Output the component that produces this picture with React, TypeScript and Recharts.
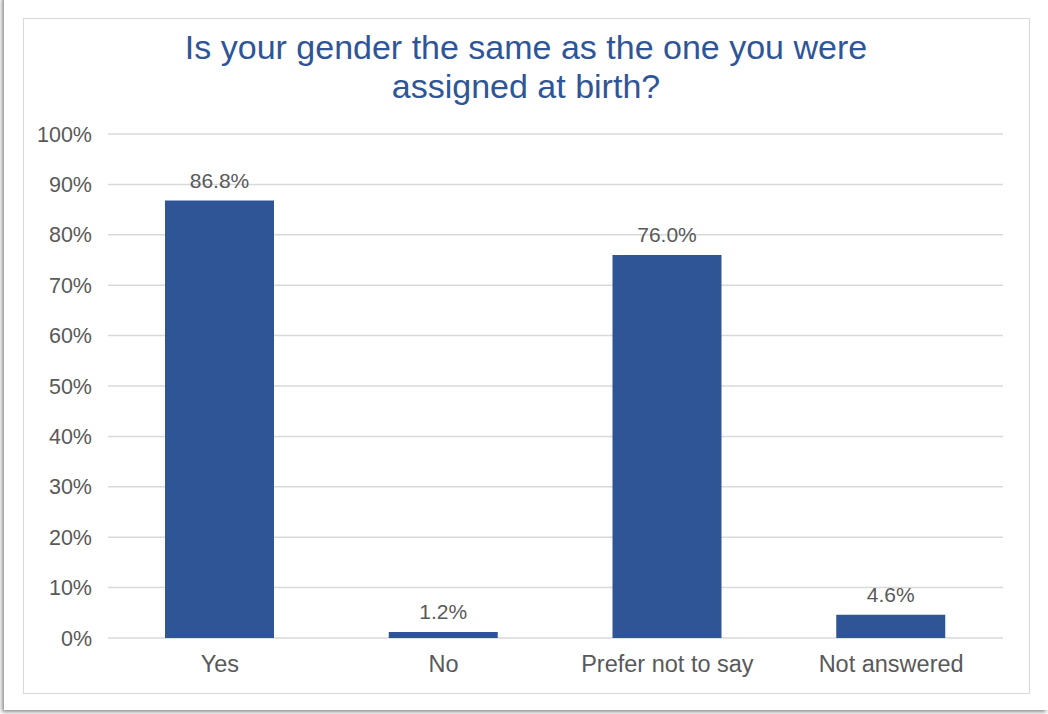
import { BarChart, Bar, XAxis, YAxis, CartesianGrid, LabelList } from 'recharts';

const categories = ['Yes', 'No', 'Prefer not to say', 'Not answered'];
const shares = [86.8, 1.2, 76.0, 4.6];
const yTicks = [0, 10, 20, 30, 40, 50, 60, 70, 80, 90, 100];

const data = categories.map((name, i) => ({ name, value: shares[i] }));

const FONT = '"Liberation Sans", Arial, Helvetica, sans-serif';
const GREY = '#595959';

export default function App() {
  return (
    <div style={{ position: 'absolute', left: 0, top: 0, width: 1048, height: 714, background: '#fff', fontFamily: FONT }}>
      <div
        style={{
          position: 'absolute', left: 4, top: -4, width: 1044, height: 714,
          background: '#fff', boxShadow: '-2px 2px 4px rgba(0,0,0,0.45)',
        }}
      />
      <div
        style={{
          position: 'absolute', left: 23, top: 18, width: 1005, height: 674,
          border: '1px solid #d9d9d9', background: '#fff',
        }}
      />
      <div
        style={{
          position: 'absolute', left: 23, top: 28, width: 1006, textAlign: 'center',
          color: '#2F5597', fontSize: 34, lineHeight: '39px',
        }}
      >
        Is your gender the same as the one you were
        <br />
        assigned at birth?
      </div>
      <div style={{ position: 'absolute', left: 0, top: 0 }}>
        <BarChart
          width={1048}
          height={714}
          data={data}
          margin={{ top: 134, right: 45, bottom: 46, left: 8 }}
        >
          <CartesianGrid vertical={false} stroke="#d9d9d9" strokeWidth={1.5} />
          <XAxis
            dataKey="name"
            axisLine={false}
            tickLine={false}
            tickMargin={11}
            tick={{ fill: GREY, fontSize: 23.5, fontFamily: FONT }}
            interval={0}
          />
          <YAxis
            width={100}
            domain={[0, 100]}
            ticks={yTicks}
            axisLine={false}
            tickLine={false}
            tickMargin={10}
            tickFormatter={(v: number) => `${v}%`}
            tick={{ fill: GREY, fontSize: 21.5, fontFamily: FONT }}
          />
          <Bar dataKey="value" fill="#2F5597" barSize={109} isAnimationActive={false}>
            <LabelList
              dataKey="value"
              position="top"
              offset={13}
              formatter={(v: number) => `${v.toFixed(1)}%`}
              style={{ fill: GREY, fontSize: 21, fontFamily: FONT }}
            />
          </Bar>
        </BarChart>
      </div>
    </div>
  );
}
